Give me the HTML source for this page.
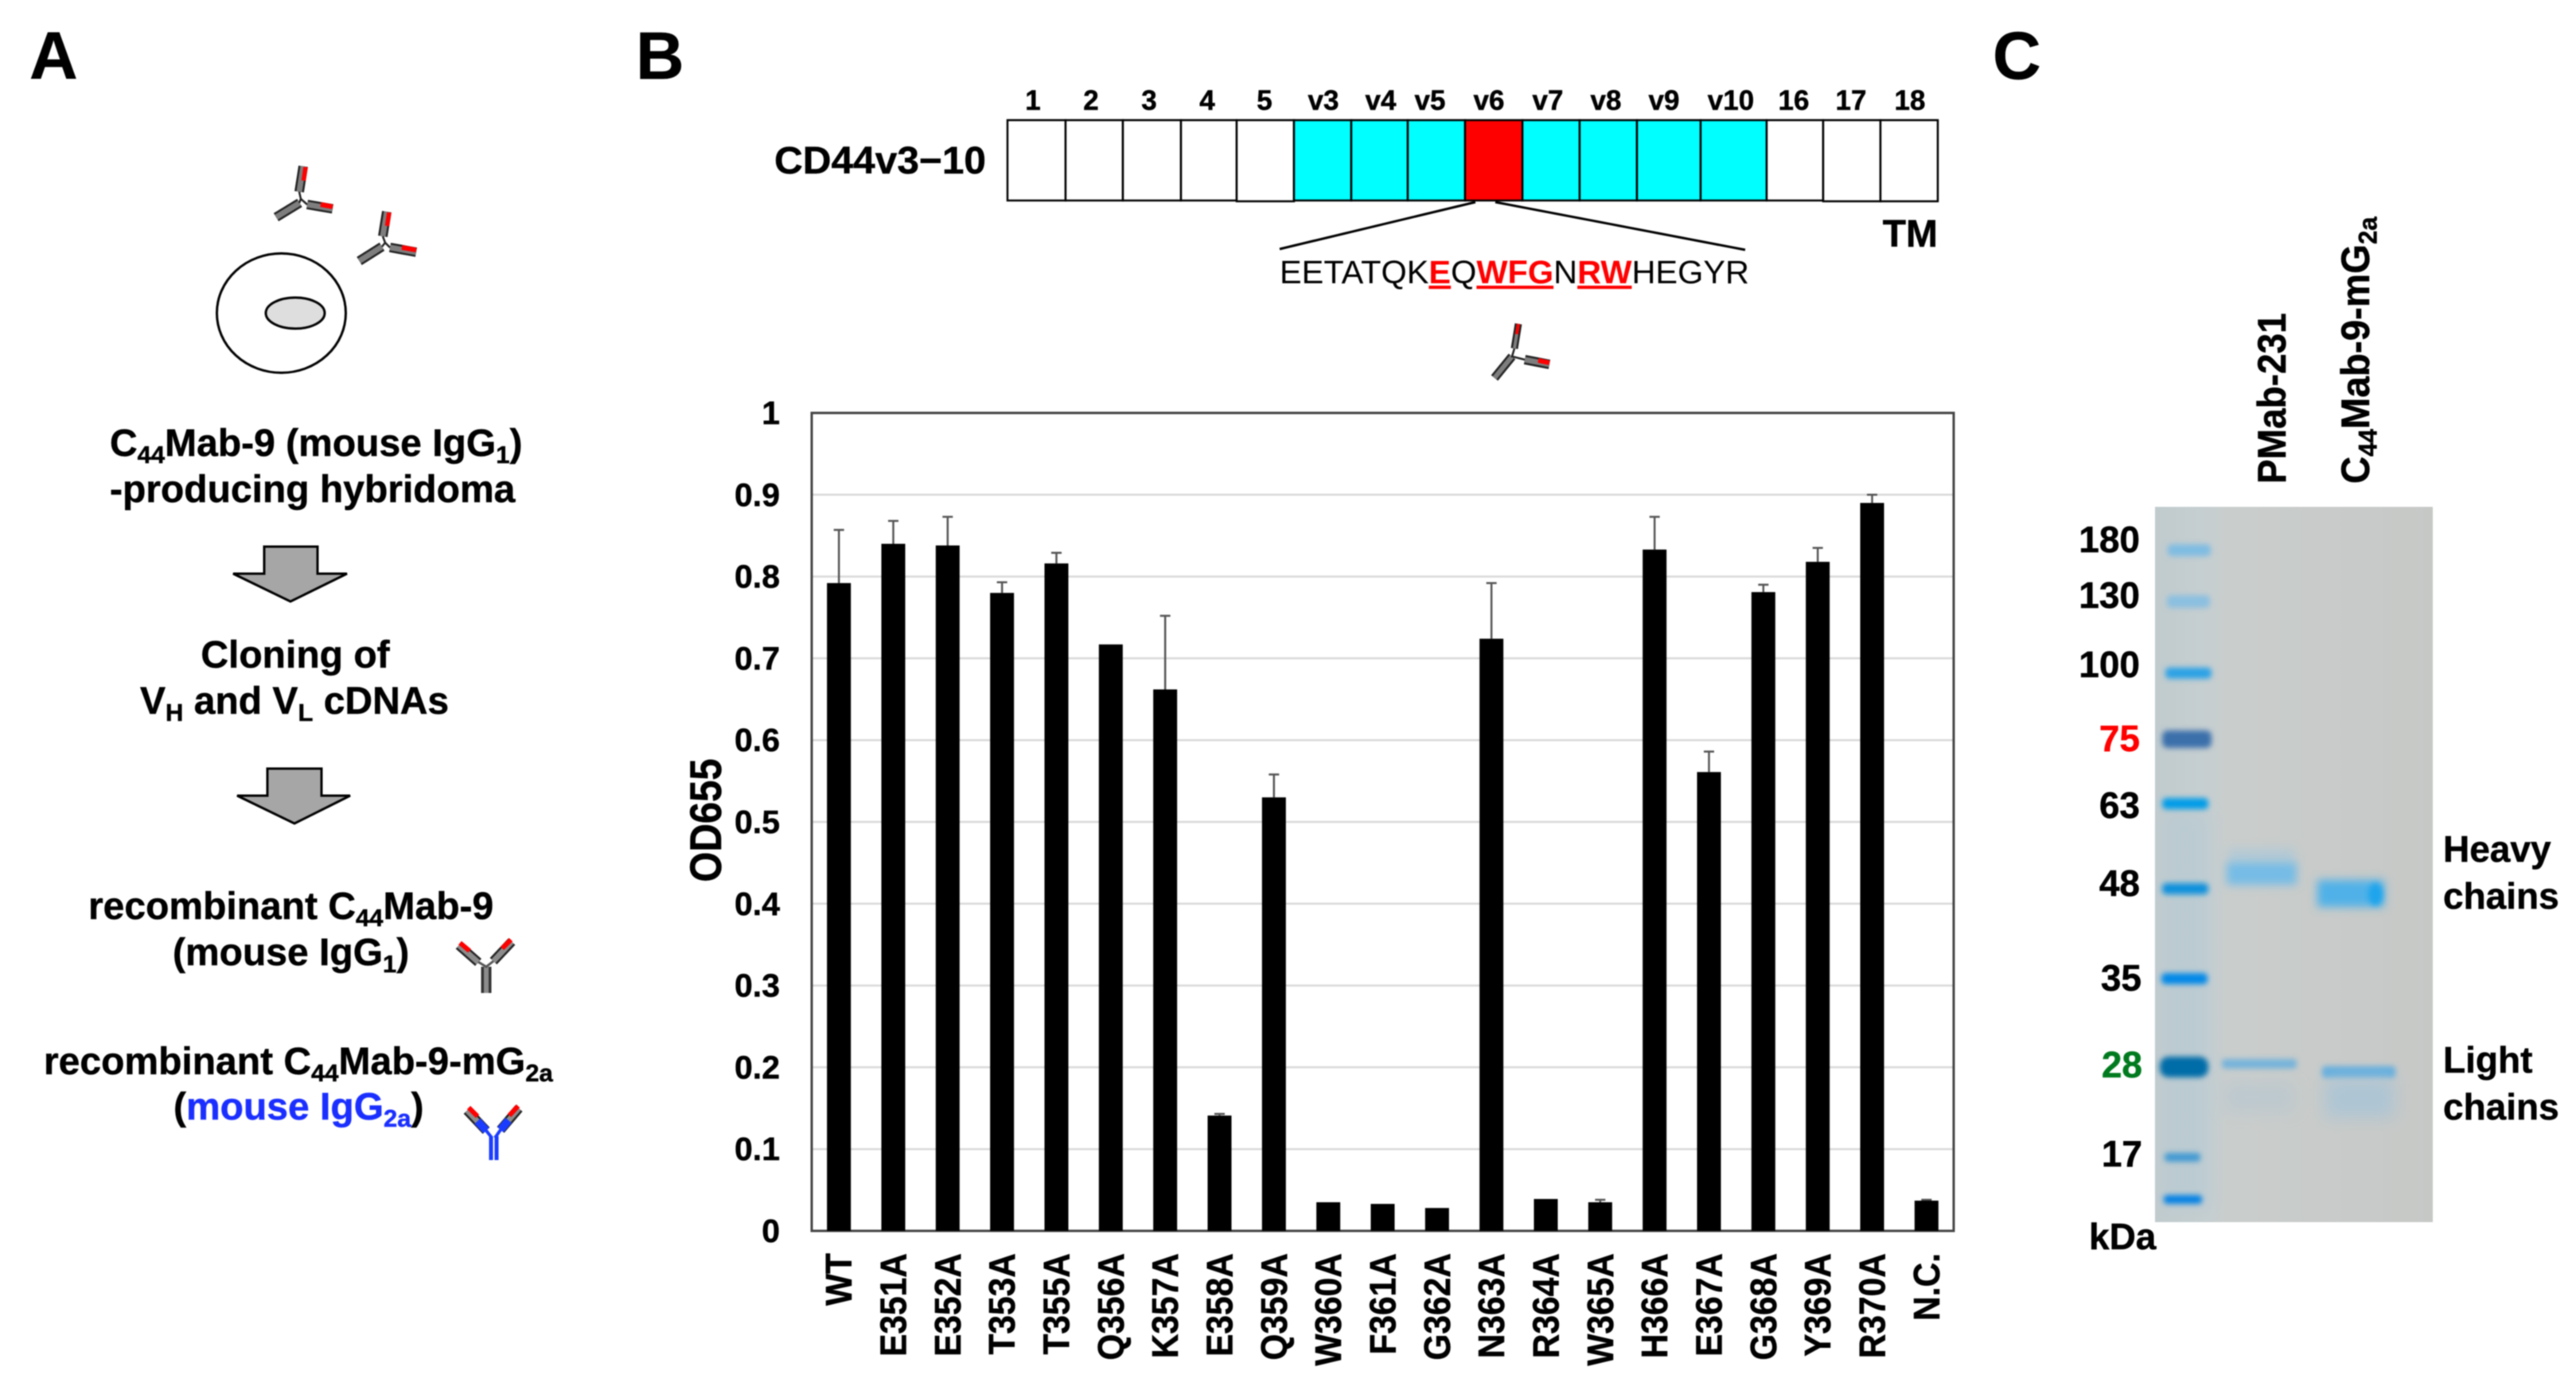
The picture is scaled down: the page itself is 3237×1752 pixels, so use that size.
<!DOCTYPE html>
<html lang="en">
<head>
<meta charset="utf-8">
<title>C44Mab-9 figure</title>
<style>
html,body{margin:0;padding:0;background:#fff;}
svg{display:block;filter:blur(0.8px);}
text{font-family:"Liberation Sans",Arial,sans-serif;font-weight:700;fill:#000;stroke:#000;stroke-width:0.5px;}
text.plain{stroke:none;}
text.red{fill:#f00;stroke:#f00;}
text.green{fill:#007a1e;stroke:#007a1e;}
</style>
</head>
<body>
<svg xmlns="http://www.w3.org/2000/svg" width="3237" height="1752" viewBox="0 0 3237 1752">
<defs>
<filter id="b2" x="-30%" y="-80%" width="160%" height="260%"><feGaussianBlur stdDeviation="3.4"/></filter>
<filter id="b4" x="-30%" y="-80%" width="160%" height="260%"><feGaussianBlur stdDeviation="5.5"/></filter>
<filter id="b8" x="-30%" y="-80%" width="160%" height="260%"><feGaussianBlur stdDeviation="10"/></filter>
<linearGradient id="gelbg" x1="0" y1="0" x2="1" y2="0">
<stop offset="0" stop-color="#c0cbce"/><stop offset="0.2" stop-color="#c6ced0"/><stop offset="0.26" stop-color="#c9cdcc"/><stop offset="1" stop-color="#c6c8c6"/>
</linearGradient>
</defs>
<rect width="3237" height="1752" fill="#fff"/>

<!-- Panel letters -->
<text x="37" y="99" font-size="84">A</text>
<text x="799" y="99" font-size="84">B</text>
<text x="2504" y="99" font-size="84">C</text>

<!-- Panel A -->
<g fill="none" stroke-linecap="butt">
<line x1="381" y1="209" x2="376" y2="241" stroke="#222" stroke-width="12"/>
<line x1="386" y1="257" x2="418" y2="262.5" stroke="#222" stroke-width="12"/>
<line x1="376.5" y1="255" x2="347" y2="273" stroke="#222" stroke-width="12"/>
<line x1="381" y1="209" x2="376" y2="241" stroke="#7e7e7e" stroke-width="7"/>
<line x1="386" y1="257" x2="418" y2="262.5" stroke="#7e7e7e" stroke-width="7"/>
<line x1="376.5" y1="255" x2="347" y2="273" stroke="#7e7e7e" stroke-width="7"/>
<line x1="384" y1="210" x2="381.5" y2="227" stroke="#f00" stroke-width="5.5"/>
<line x1="403" y1="257" x2="418" y2="259.8" stroke="#f00" stroke-width="6"/>
<path d="M376 241 L378 250 L386 257 M378 250 L376 255" stroke="#222" stroke-width="2.5"/>
</g>
<g fill="none">
<line x1="486" y1="266" x2="481" y2="297" stroke="#222" stroke-width="12"/>
<line x1="490" y1="311" x2="523" y2="317" stroke="#222" stroke-width="12"/>
<line x1="480" y1="310" x2="451.5" y2="328" stroke="#222" stroke-width="12"/>
<line x1="486" y1="266" x2="481" y2="297" stroke="#7e7e7e" stroke-width="7"/>
<line x1="490" y1="311" x2="523" y2="317" stroke="#7e7e7e" stroke-width="7"/>
<line x1="480" y1="310" x2="451.5" y2="328" stroke="#7e7e7e" stroke-width="7"/>
<line x1="489" y1="267" x2="486.5" y2="284" stroke="#f00" stroke-width="5.5"/>
<line x1="505" y1="311" x2="523" y2="314.3" stroke="#f00" stroke-width="6"/>
<path d="M481 297 L484 305 L490 311 M484 305 L480 310" stroke="#222" stroke-width="2.5"/>
</g>
<ellipse cx="353.5" cy="393.5" rx="81" ry="75" fill="#fff" stroke="#000" stroke-width="3"/>
<ellipse cx="371" cy="393.5" rx="37" ry="19.5" fill="#dedede" stroke="#000" stroke-width="3"/>

<text x="138" y="573" font-size="48">C<tspan font-size="31" dy="9">44</tspan><tspan dy="-9">Mab-9 (mouse IgG</tspan><tspan font-size="31" dy="9">1</tspan><tspan dy="-9">)</tspan></text>
<text x="138" y="631" font-size="48">-producing hybridoma</text>
<polygon points="332,687 399,687 399,721 436,721 365,756 293,721 332,721" fill="#a6a6a6" stroke="#000" stroke-width="3"/>
<text x="371" y="839" font-size="48" text-anchor="middle">Cloning of</text>
<text x="176" y="897" font-size="48">V<tspan font-size="31" dy="9">H</tspan><tspan dy="-9"> and V</tspan><tspan font-size="31" dy="9">L</tspan><tspan dy="-9"> cDNAs</tspan></text>
<polygon points="336,966 404,966 404,1000 440,1000 370,1035 298,1000 336,1000" fill="#a6a6a6" stroke="#000" stroke-width="3"/>
<text x="111" y="1155" font-size="48">recombinant C<tspan font-size="31" dy="9">44</tspan><tspan dy="-9">Mab-9</tspan></text>
<text x="217" y="1213" font-size="48">(mouse IgG<tspan font-size="31" dy="9">1</tspan><tspan dy="-9">)</tspan></text>
<text x="55" y="1350" font-size="48">recombinant C<tspan font-size="31" dy="9">44</tspan><tspan dy="-9">Mab-9-mG</tspan><tspan font-size="31" dy="9">2a</tspan></text>
<text x="218" y="1407" font-size="48">(<tspan style="fill:#1a2fff;stroke:#1a2fff">mouse IgG</tspan><tspan font-size="31" dy="9" style="fill:#1a2fff;stroke:#1a2fff">2a</tspan><tspan dy="-9">)</tspan></text>

<g fill="none">
<line x1="601" y1="1209.5" x2="576.6" y2="1188" stroke="#222" stroke-width="12"/>
<line x1="620" y1="1208" x2="643" y2="1183.5" stroke="#222" stroke-width="12"/>
<line x1="611" y1="1215" x2="611" y2="1248" stroke="#333" stroke-width="13"/>
<line x1="601" y1="1209.5" x2="576.6" y2="1188" stroke="#8c8c8c" stroke-width="7"/>
<line x1="620" y1="1208" x2="643" y2="1183.5" stroke="#8c8c8c" stroke-width="7"/>
<line x1="611" y1="1215" x2="611" y2="1248" stroke="#8c8c8c" stroke-width="6"/>
<line x1="590" y1="1195" x2="578" y2="1185" stroke="#f00" stroke-width="6"/>
<line x1="631" y1="1192" x2="642" y2="1181" stroke="#f00" stroke-width="6"/>
<path d="M601 1209 L611 1215 L620 1208" stroke="#555" stroke-width="3"/>
</g>
<g fill="none">
<line x1="611" y1="1421" x2="587" y2="1395.6" stroke="#222" stroke-width="12"/>
<line x1="629" y1="1420" x2="652" y2="1393" stroke="#222" stroke-width="12"/>
<line x1="611" y1="1421" x2="587" y2="1395.6" stroke="#8c8c8c" stroke-width="7"/>
<line x1="629" y1="1420" x2="652" y2="1393" stroke="#8c8c8c" stroke-width="7"/>
<line x1="611" y1="1421" x2="600" y2="1409" stroke="#1a3cff" stroke-width="10"/>
<line x1="629" y1="1420" x2="639" y2="1408" stroke="#1a3cff" stroke-width="10"/>
<line x1="600" y1="1403" x2="589" y2="1392" stroke="#f00" stroke-width="6"/>
<line x1="640" y1="1402" x2="651" y2="1390" stroke="#f00" stroke-width="6"/>
<path d="M611 1421 L618 1430 M629 1420 L622 1430" stroke="#1a3cff" stroke-width="4"/>
<line x1="617" y1="1428" x2="617" y2="1458" stroke="#1a3cff" stroke-width="5"/>
<line x1="624" y1="1428" x2="624" y2="1458" stroke="#1a3cff" stroke-width="5"/>
</g>

<!-- Panel B diagram -->
<text x="973" y="218" font-size="48" textLength="266" lengthAdjust="spacingAndGlyphs">CD44v3−10</text>
<g stroke="#000" stroke-width="2.5">
<rect x="1266" y="151" width="73" height="101" fill="#fff"/>
<rect x="1339" y="151" width="72" height="101" fill="#fff"/>
<rect x="1411" y="151" width="73" height="101" fill="#fff"/>
<rect x="1484" y="151" width="70" height="101" fill="#fff"/>
<rect x="1554" y="151" width="72" height="102" fill="#fff"/>
<rect x="1626" y="151" width="72" height="101" fill="#00ffff"/>
<rect x="1698" y="151" width="71" height="101" fill="#00ffff"/>
<rect x="1769" y="151" width="72" height="101" fill="#00ffff"/>
<rect x="1913" y="151" width="72" height="101" fill="#00ffff"/>
<rect x="1985" y="151" width="72" height="101" fill="#00ffff"/>
<rect x="2057" y="151" width="80" height="101" fill="#00ffff"/>
<rect x="2137" y="151" width="83" height="101" fill="#00ffff"/>
<rect x="2220" y="151" width="71" height="101" fill="#fff"/>
<rect x="2291" y="151" width="72" height="102" fill="#fff"/>
<rect x="2363" y="151" width="72" height="102" fill="#fff"/>
<rect x="1841" y="151" width="72" height="101" fill="#ff0000"/>
</g>
<g font-size="35" text-anchor="middle">
<text x="1298" y="138">1</text>
<text x="1371" y="138">2</text>
<text x="1444" y="138">3</text>
<text x="1517" y="138">4</text>
<text x="1589" y="138">5</text>
<text x="1663" y="138">v3</text>
<text x="1735" y="138">v4</text>
<text x="1797" y="138">v5</text>
<text x="1871" y="138">v6</text>
<text x="1945" y="138">v7</text>
<text x="2018" y="138">v8</text>
<text x="2091" y="138">v9</text>
<text x="2175" y="138">v10</text>
<text x="2254" y="138">16</text>
<text x="2326" y="138">17</text>
<text x="2400" y="138">18</text>
</g>
<line x1="1854" y1="254" x2="1608" y2="313" stroke="#000" stroke-width="3"/>
<line x1="1879" y1="254" x2="2193" y2="314" stroke="#000" stroke-width="3"/>
<text x="2435" y="310" font-size="48" text-anchor="end">TM</text>
<text class="plain" x="1608" y="356" font-size="41" style="font-weight:400" textLength="590" lengthAdjust="spacingAndGlyphs">EETATQK<tspan style="font-weight:700;fill:#f00;text-decoration:underline">E</tspan>Q<tspan style="font-weight:700;fill:#f00;text-decoration:underline">WFG</tspan>N<tspan style="font-weight:700;fill:#f00;text-decoration:underline">RW</tspan>HEGYR</text>
<g fill="none">
<line x1="1908" y1="407" x2="1903" y2="438" stroke="#222" stroke-width="9"/>
<line x1="1900" y1="448" x2="1878" y2="475" stroke="#222" stroke-width="11"/>
<line x1="1916" y1="452" x2="1947" y2="458" stroke="#222" stroke-width="12"/>
<line x1="1908" y1="407" x2="1903" y2="438" stroke="#7e7e7e" stroke-width="4"/>
<line x1="1900" y1="448" x2="1878" y2="475" stroke="#7e7e7e" stroke-width="6"/>
<line x1="1916" y1="452" x2="1947" y2="458" stroke="#7e7e7e" stroke-width="7"/>
<line x1="1908" y1="407" x2="1906" y2="420" stroke="#f00" stroke-width="4"/>
<line x1="1933" y1="453" x2="1947" y2="456" stroke="#f00" stroke-width="6"/>
<path d="M1903 438 L1900 448 L1916 452" stroke="#222" stroke-width="2.5"/>
</g>

<!-- Panel B chart -->
<g id="chart"></g>

<!-- Panel C -->
<g>
<rect x="2708" y="637" width="349" height="899" fill="url(#gelbg)"/>
<rect x="2722" y="1020" width="56" height="500" fill="#a9c8d8" opacity="0.3" filter="url(#b8)"/>
<g>
<rect x="2724" y="684" width="54" height="15" rx="5" fill="#7fbce2" filter="url(#b2)"/>
<rect x="2723" y="748" width="54" height="16" rx="5" fill="#8bbfe0" filter="url(#b2)"/>
<rect x="2721" y="839" width="58" height="14" rx="5" fill="#2aa2e6" filter="url(#b2)"/>
<rect x="2717" y="918" width="62" height="22" rx="7" fill="#3a70ab" filter="url(#b2)"/>
<rect x="2717" y="1003" width="58" height="14" rx="5" fill="#009ce8" filter="url(#b2)"/>
<rect x="2717" y="1110" width="58" height="14" rx="5" fill="#0a90dc" filter="url(#b2)"/>
<rect x="2716" y="1223" width="58" height="14" rx="5" fill="#0088e8" filter="url(#b2)"/>
<rect x="2714" y="1328" width="61" height="26" rx="11" fill="#066ca8" filter="url(#b2)"/>
<rect x="2720" y="1449" width="45" height="11" rx="4" fill="#4099d2" filter="url(#b2)"/>
<rect x="2719" y="1502" width="48" height="11" rx="4" fill="#0080e4" filter="url(#b2)"/>
</g>
<rect x="2800" y="1066" width="84" height="22" fill="#a6c8dc" opacity="0.6" filter="url(#b4)"/>
<rect x="2798" y="1084" width="88" height="28" fill="#74bce6" filter="url(#b4)"/>
<rect x="2912" y="1106" width="84" height="34" fill="#4fb1e8" filter="url(#b4)"/>
<ellipse cx="2985" cy="1124" rx="9" ry="14" fill="#1ea4ec" filter="url(#b2)"/>
<rect x="2792" y="1331" width="94" height="12" rx="4" fill="#74b3da" filter="url(#b2)"/>
<rect x="2918" y="1340" width="92" height="15" rx="4" fill="#63aede" filter="url(#b2)"/>
<rect x="2922" y="1356" width="86" height="48" fill="#a7c4d8" opacity="0.8" filter="url(#b8)"/>
<rect x="2796" y="1362" width="86" height="34" fill="#b4c6d2" opacity="0.6" filter="url(#b8)"/>
</g>
<g font-size="46" text-anchor="end">
<text x="2689" y="694">180</text>
<text x="2689" y="764">130</text>
<text x="2689" y="851">100</text>
<text class="red" x="2689" y="944">75</text>
<text x="2689" y="1028">63</text>
<text x="2689" y="1126">48</text>
<text x="2691" y="1245">35</text>
<text class="green" x="2692" y="1354">28</text>
<text x="2692" y="1466">17</text>
</g>
<text x="2625" y="1570" font-size="46">kDa</text>
<text transform="translate(2872 608) rotate(-90) scale(1 1.08)" font-size="46">PMab-231</text>
<text transform="translate(2977 608) rotate(-90) scale(1 1.06)" font-size="47.5">C<tspan font-size="31" dy="9">44</tspan><tspan dy="-9">Mab-9-mG</tspan><tspan font-size="31" dy="9">2a</tspan></text>
<text x="3070" y="1083" font-size="46">Heavy</text>
<text x="3070" y="1142" font-size="46">chains</text>
<text x="3070" y="1348" font-size="46">Light</text>
<text x="3070" y="1407" font-size="46">chains</text>
</svg>

<script>
const categories = ["WT","E351A","E352A","T353A","T355A","Q356A","K357A","E358A","Q359A","W360A","F361A","G362A","N363A","R364A","W365A","H366A","E367A","G368A","Y369A","R370A","N.C."];
const odValues = [0.792,0.840,0.838,0.780,0.816,0.717,0.662,0.141,0.530,0.035,0.033,0.028,0.724,0.039,0.035,0.833,0.561,0.781,0.818,0.890,0.037];
const odErrors = [0.065,0.028,0.035,0.013,0.013,0,0.090,0.002,0.028,0,0,0,0.068,0,0.003,0.040,0.025,0.009,0.017,0.010,0.001];
const yTickValues = [0,0.1,0.2,0.3,0.4,0.5,0.6,0.7,0.8,0.9,1];
const yTickLabels = ["0","0.1","0.2","0.3","0.4","0.5","0.6","0.7","0.8","0.9","1"];

const SVGNS = "http://www.w3.org/2000/svg";
const plotLeft = 1020, plotRight = 2455, plotTop = 519, plotBottom = 1547;
const chart = document.getElementById("chart");

function yScale(v) { return plotBottom - (plotBottom - plotTop) * v; }
function xScale(i) { return plotLeft + (plotRight - plotLeft) * (i + 0.5) / categories.length; }
function make(tag, attrs) {
  const el = document.createElementNS(SVGNS, tag);
  for (const k in attrs) el.setAttribute(k, attrs[k]);
  chart.appendChild(el);
  return el;
}

yTickValues.forEach(function (v, i) {
  if (v > 0 && v < 1) {
    const grid = make("line", {x1: plotLeft, x2: plotRight, y1: yScale(v), y2: yScale(v), stroke: "#d9d9d9", "stroke-width": 2.5});
    
    
  }
  const tick = make("text", {x: 980, y: yScale(v) + 14, "font-size": 41, "text-anchor": "end"});
  tick.textContent = yTickLabels[i];
  
  
});

const frame = make("rect", {x: plotLeft, y: plotTop, width: plotRight - plotLeft, height: plotBottom - plotTop, fill: "none", stroke: "#444", "stroke-width": 3});



categories.forEach(function (name, i) {
  const cx = xScale(i);
  const value = odValues[i];
  const err = odErrors[i];
  if (err > 0) {
    const stem = make("line", {x1: cx, x2: cx, y1: yScale(value), y2: yScale(value + err), stroke: "#555", "stroke-width": 2.5});
    
    
    const cap = make("line", {x1: cx - 6.5, x2: cx + 6.5, y1: yScale(value + err), y2: yScale(value + err), stroke: "#555", "stroke-width": 2.5});
    
    
  }
  const bar = make("rect", {x: cx - 15, y: yScale(value), width: 30, height: plotBottom - yScale(value), fill: "#000"});
  
  
  const label = make("text", {"font-size": 42.5, "text-anchor": "end", transform: "translate(" + (cx + 16) + " 1575) rotate(-90) scale(1 1.08)"});
  label.textContent = name;
  
  
});

const yTitle = make("text", {"font-size": 49, "text-anchor": "middle", transform: "translate(906 1031) rotate(-90) scale(1 1.14)"});
yTitle.textContent = "OD655";


</script>
</body>
</html>
